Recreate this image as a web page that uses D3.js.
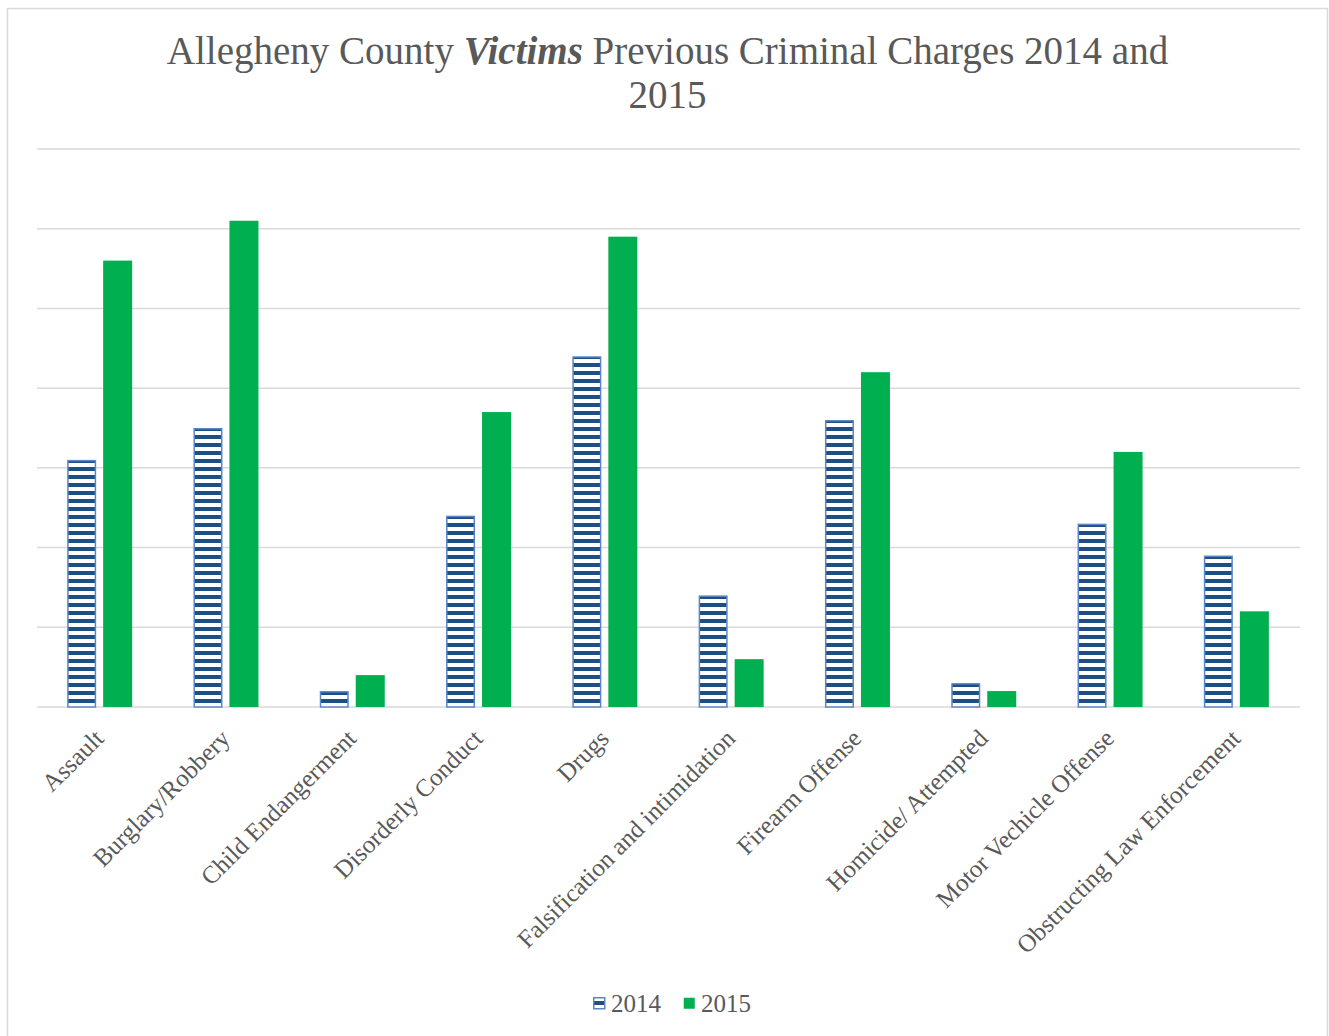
<!DOCTYPE html>
<html>
<head>
<meta charset="utf-8">
<script src="https://cdn.jsdelivr.net/npm/d3@7"></script>
<style>
  html, body { margin: 0; padding: 0; background: #fff; }
  svg { display: block; }
  text { font-family: "Liberation Serif", "DejaVu Serif", serif; fill: #595959; }
</style>
</head>
<body>
<svg id="chart" width="1329" height="1036"></svg>
<script>
const categories = ["Assault", "Burglary/Robbery", "Child Endangerment", "Disorderly Conduct", "Drugs",
  "Falsification and intimidation", "Firearm Offense", "Homicide/ Attempted", "Motor Vechicle Offense",
  "Obstructing Law Enforcement"];
const seriesNames = ["2014", "2015"];
const values2014 = [31, 35, 2, 24, 44, 14, 36, 3, 23, 19];
const values2015 = [56, 61, 4, 37, 59, 6, 42, 2, 32, 12];
const gridTicks = [0, 10, 20, 30, 40, 50, 60, 70];
const titleLines = [["Allegheny County ", "Victims", " Previous Criminal Charges 2014 and"], ["2015"]];

const svg = d3.select("#chart");

// chart border
svg.append("rect").attr("x", 7.5).attr("y", 8.5).attr("width", 1320).attr("height", 1040)
  .attr("fill", "#fff").attr("stroke", "#d9d9d9").attr("stroke-width", 1.5);

const defs = svg.append("defs");
function stripePattern(id, offset) {
  const pat = defs.append("pattern").attr("id", id).attr("patternUnits", "userSpaceOnUse")
    .attr("width", 8).attr("height", 8).attr("y", offset);
  pat.append("rect").attr("width", 8).attr("height", 8).attr("fill", "#fff");
  pat.append("rect").attr("width", 8).attr("height", 4).attr("fill", "#1f4e83");
}
stripePattern("stripes", 3);
stripePattern("stripesLegend", 1001);

const plotLeft = 37, plotRight = 1300, plotTop = 149, plotBottom = 707;
const y = d3.scaleLinear().domain([0, 70]).range([plotBottom, plotTop]);
const x0 = d3.scaleBand().domain(categories).range([plotLeft, plotRight]).padding(0);
const x1 = d3.scaleBand().domain(seriesNames).range([-33, 32]).paddingInner(0.194).paddingOuter(0);

// gridlines
svg.append("g").selectAll("line").data(gridTicks).join("line")
  .attr("x1", plotLeft).attr("x2", plotRight)
  .attr("y1", d => y(d)).attr("y2", d => y(d))
  .attr("stroke", "#d9d9d9").attr("stroke-width", 1.5);

// bars
const rows = categories.map((c, i) => ({ cat: c, vals: [values2014[i], values2015[i]] }));
const groups = svg.append("g").selectAll("g").data(rows).join("g")
  .attr("transform", d => `translate(${x0(d.cat) + x0.bandwidth() / 2},0)`);

groups.append("rect")
  .attr("x", x1("2014") + 0.75).attr("width", x1.bandwidth() - 1.5)
  .attr("y", d => y(d.vals[0]) + 0.75).attr("height", d => y(0) - y(d.vals[0]) - 0.75)
  .attr("fill", "url(#stripes)").attr("stroke", "#5b86c5").attr("stroke-width", 1.5);

groups.append("rect")
  .attr("x", x1("2015")).attr("width", x1.bandwidth())
  .attr("y", d => y(d.vals[1])).attr("height", d => y(0) - y(d.vals[1]))
  .attr("fill", "#00b050");

// x labels
const xAxis = svg.append("g");
xAxis.selectAll("text").data(categories).join("text")
  .attr("text-anchor", "end")
  .attr("font-size", 25)
  .attr("transform", d => `translate(${x0(d) + x0.bandwidth() / 2 + 5},${plotBottom + 33}) rotate(-45)`)
  .text(d => d);

// title
const titleG = svg.append("g");
const t1 = titleG.append("text").attr("x", 667.5).attr("y", 64).attr("text-anchor", "middle").attr("font-size", 39);
titleLines[0].forEach((s, i) => {
  t1.append("tspan").text(s)
    .attr("font-weight", i === 1 ? "bold" : "normal")
    .attr("font-style", i === 1 ? "italic" : "normal");
});
titleG.append("text").attr("x", 667.5).attr("y", 108).attr("text-anchor", "middle").attr("font-size", 39)
  .text(titleLines[1][0]);

// legend
const legend = svg.append("g");
const legItems = [
  { name: seriesNames[0], fill: "url(#stripesLegend)", stroke: "#5b86c5", x: 593 },
  { name: seriesNames[1], fill: "#00b050", stroke: "none", x: 683 }
];
legItems.forEach(it => {
  legend.append("rect").attr("x", it.x + 0.75).attr("y", 997.75).attr("width", 11).attr("height", 11)
    .attr("fill", it.fill).attr("stroke", it.stroke).attr("stroke-width", 1.5);
  legend.append("text").attr("x", it.x + 18).attr("y", 1012).attr("font-size", 25).text(it.name);
});
</script>
</body>
</html>
